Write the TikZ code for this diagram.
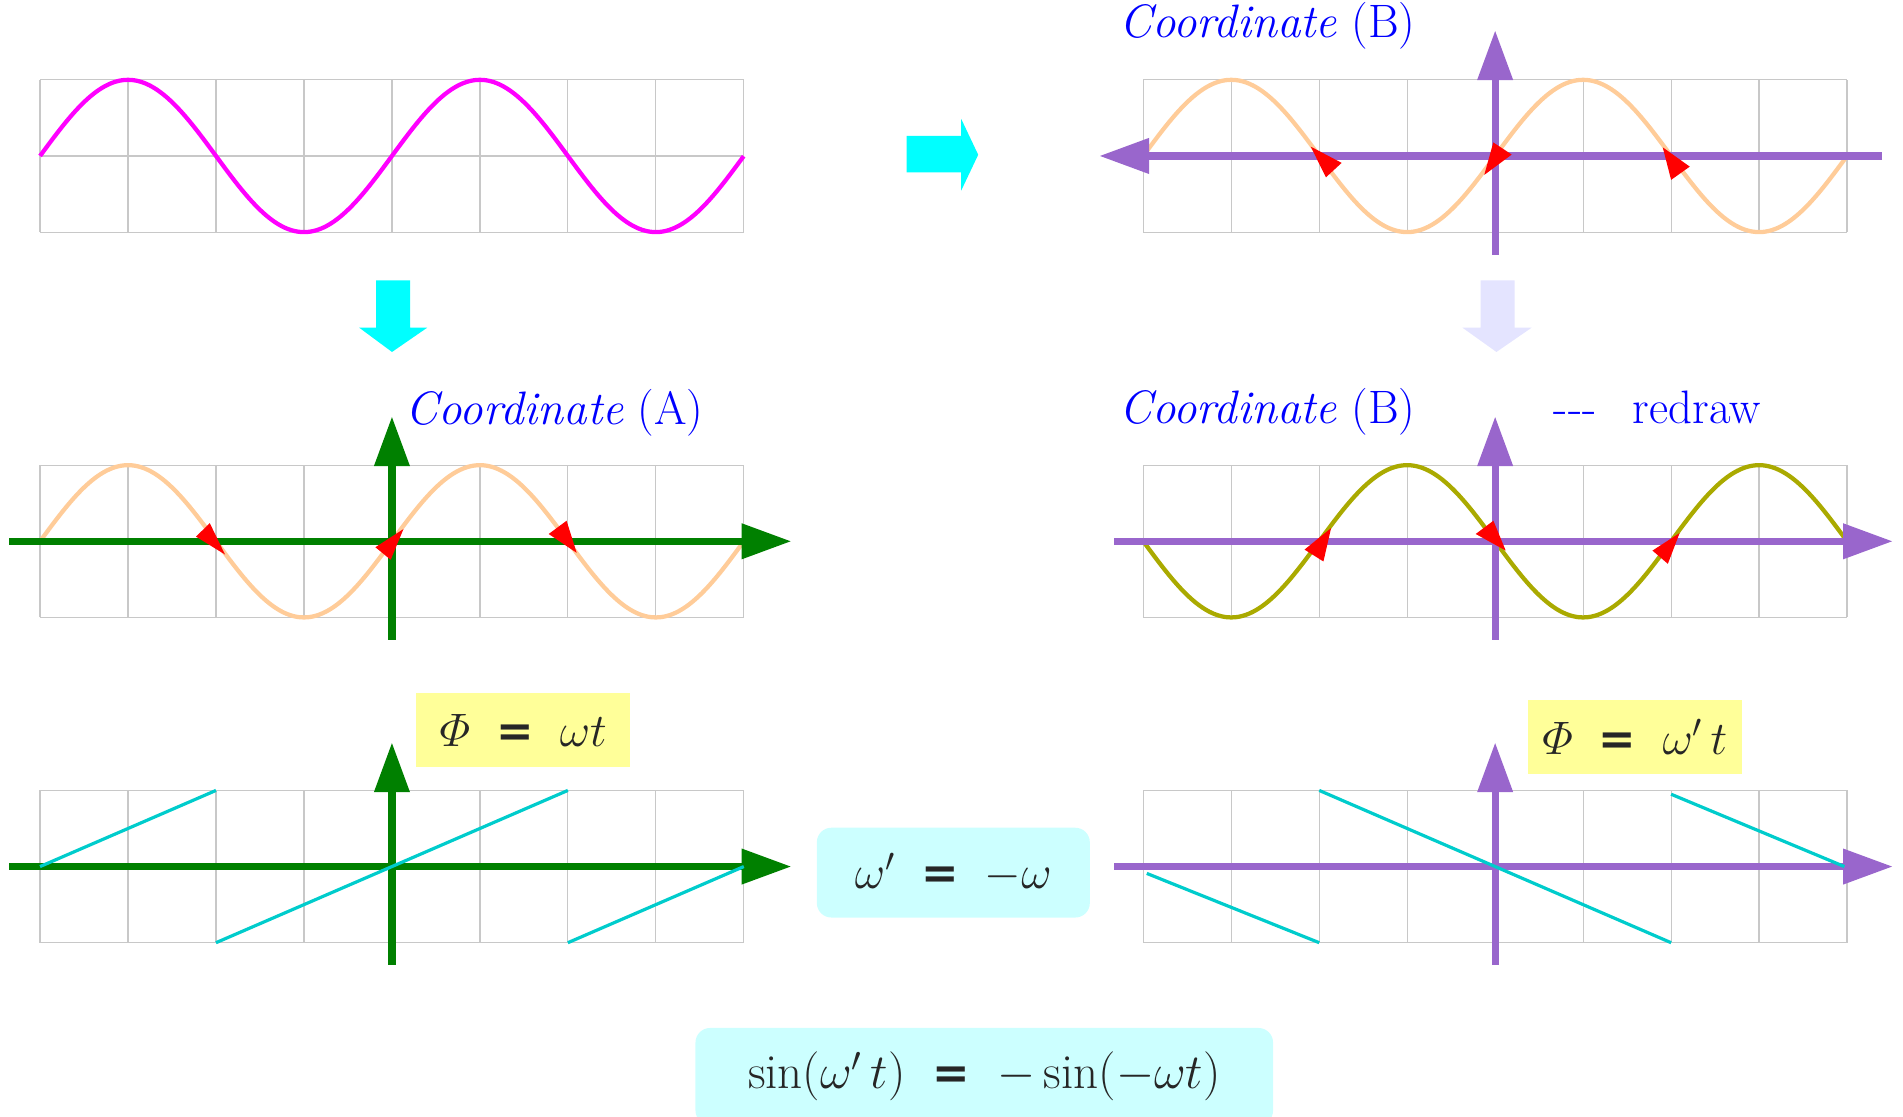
\documentclass[tikz,border=0pt]{standalone}
\usepackage{fix-cm}
\usepackage{amsmath}
\usepackage{fontspec}
\newfontfamily\heavyfont{DejaVu Sans}
\newcommand\heq{\mathrel{\text{\heavyfont\bfseries\fontsize{21}{24}\selectfont =}}}
\usetikzlibrary{arrows.meta}
\definecolor{gridgray}{RGB}{200,200,200}
\definecolor{wavemagenta}{RGB}{255,0,255}
\definecolor{peach}{RGB}{255,204,153}
\definecolor{oliveline}{RGB}{170,170,0}
\definecolor{axisgreen}{RGB}{0,128,0}
\definecolor{axispurple}{RGB}{153,102,204}
\definecolor{sawcyan}{RGB}{0,204,204}
\definecolor{flowcyan}{RGB}{0,255,255}
\definecolor{flowpale}{RGB}{228,228,255}
\definecolor{phiyellow}{RGB}{255,255,153}
\definecolor{eqcyan}{RGB}{204,255,255}
\definecolor{labelblue}{RGB}{0,0,255}

\begin{document}
\begin{tikzpicture}[x=0.02cm,y=-0.02cm,
  cell/.style={gridgray,line width=0.55pt},
  wave/.style={line width=2pt},
  sawline/.style={sawcyan,line width=1.5pt},
  axisA/.style={axisgreen,line width=3.4pt,-{Triangle[length=0.82cm,width=0.56cm]}},
  axisB/.style={axispurple,line width=3.4pt,-{Triangle[length=0.82cm,width=0.56cm]}},
  dirtip/.style={fill=red},
  label/.style={labelblue,font=\fontsize{22}{26}\selectfont,inner sep=0pt,anchor=base west},
  phibox/.style={fill=phiyellow,text=black!85,font=\fontsize{22}{26}\selectfont,minimum width=3.52cm,minimum height=1.22cm,inner sep=0pt},
  eqbox/.style={fill=eqcyan,text=black!85,font=\fontsize{22}{26}\selectfont,rounded corners=0.24cm,inner sep=0pt}]
\useasboundingbox (0,0) rectangle (1568,920);

% top left: the plain wave
\begin{scope}[shift={(33,128.5)},x=1.45cm,y=1.255cm]
\foreach \i in {0,...,8} \draw[cell] (\i,-1) -- (\i,1);
\foreach \j in {-1,0,1} \draw[cell] (0,\j) -- (8,\j);
\draw[wave,wavemagenta] plot[domain=0:8,samples=161,smooth] (\x,{sin(90*\x)});
\end{scope}

% top right: coordinate (B)
\begin{scope}[shift={(942,128.5)},x=1.45cm,y=1.255cm]
\foreach \i in {0,...,8} \draw[cell] (\i,-1) -- (\i,1);
\foreach \j in {-1,0,1} \draw[cell] (0,\j) -- (8,\j);
\draw[wave,peach] plot[domain=0:8,samples=161,smooth] (\x,{sin(90*\x)});
\draw[axisB] (8.4,0) -- (-0.5,0);
\draw[axisB] (4,-1.3) -- (4,1.65);
\fill[dirtip] (1.903,0.123) -- (2.255,-0.091) -- (2.077,-0.28) -- cycle;
\fill[dirtip] (3.979,0.178) -- (4.188,0.018) -- (3.876,-0.249) -- cycle;
\fill[dirtip] (5.905,0.113) -- (6.212,-0.14) -- (6,-0.314) -- cycle;
\end{scope}

% middle left: coordinate (A)
\begin{scope}[shift={(33,446)},x=1.45cm,y=1.255cm]
\foreach \i in {0,...,8} \draw[cell] (\i,-1) -- (\i,1);
\foreach \j in {-1,0,1} \draw[cell] (0,\j) -- (8,\j);
\draw[wave,peach] plot[domain=0:8,samples=161,smooth] (\x,{sin(90*\x)});
\draw[axisA] (-0.35,0) -- (8.54,0);
\draw[axisA] (4,-1.29) -- (4,1.64);
\fill[dirtip] (1.773,0.061) -- (1.929,0.239) -- (2.103,-0.174) -- cycle;
\fill[dirtip] (3.812,-0.078) -- (4.131,0.161) -- (3.986,-0.243) -- cycle;
\fill[dirtip] (5.782,0.096) -- (5.985,0.27) -- (6.1,-0.152) -- cycle;
\end{scope}

% middle right: coordinate (B) redrawn
\begin{scope}[shift={(942,446)},x=1.45cm,y=1.255cm]
\foreach \i in {0,...,8} \draw[cell] (\i,-1) -- (\i,1);
\foreach \j in {-1,0,1} \draw[cell] (0,\j) -- (8,\j);
\draw[wave,oliveline] plot[domain=0:8,samples=161,smooth] (\x,{-sin(90*\x)});
\draw[axisB] (-0.33,0) -- (8.52,0);
\draw[axisB] (4,-1.29) -- (4,1.64);
\fill[dirtip] (1.833,-0.109) -- (2.135,0.174) -- (2.048,-0.265) -- cycle;
\fill[dirtip] (3.779,0.096) -- (3.98,0.27) -- (4.12,-0.122) -- cycle;
\fill[dirtip] (5.788,-0.122) -- (6.097,0.109) -- (5.963,-0.296) -- cycle;
\end{scope}

% bottom left: phase of (A)
\begin{scope}[shift={(33,714)},x=1.45cm,y=1.255cm]
\foreach \i in {0,...,8} \draw[cell] (\i,-1) -- (\i,1);
\foreach \j in {-1,0,1} \draw[cell] (0,\j) -- (8,\j);
\draw[axisA] (-0.35,0) -- (8.54,0);
\draw[axisA] (4,-1.29) -- (4,1.63);
\draw[sawline] (0,0) -- (2,1);
\draw[sawline] (2,-1) -- (6,1);
\draw[sawline] (6,-1) -- (8,0);
\end{scope}

% bottom right: phase of (B)
\begin{scope}[shift={(942,714)},x=1.45cm,y=1.255cm]
\foreach \i in {0,...,8} \draw[cell] (\i,-1) -- (\i,1);
\foreach \j in {-1,0,1} \draw[cell] (0,\j) -- (8,\j);
\draw[axisB] (-0.33,0) -- (8.52,0);
\draw[axisB] (4,-1.29) -- (4,1.63);
\draw[sawline] (0.04,-0.09) -- (2,-1);
\draw[sawline] (2,1) -- (6,-1);
\draw[sawline] (6,0.95) -- (7.97,0);
\end{scope}

% flow arrows
\fill[flowcyan] (747,112) -- (792,112) -- (792,98) -- (806,127.5) -- (792,157) -- (792,142) -- (747,142) -- cycle;
\fill[flowcyan] (310,231) -- (338,231) -- (338,270) -- (352,270) -- (323,290) -- (296,270) -- (310,270) -- cycle;
\fill[flowpale] (1220,231) -- (1248,231) -- (1248,270) -- (1262,270) -- (1233,290) -- (1205,270) -- (1220,270) -- cycle;

% labels
\node[label] (labB) at (922,31) {\textit{Coordinate} (B)};
\node[label] (labA) at (334,350) {\textit{Coordinate} (A)};
\node[label] (labBr) at (922,349) {\textit{Coordinate} (B)};
\node[label] (redraw) at (1280,349) {-{}-{}-\hspace{0.6cm}redraw};

% formulas
\node[phibox] (phiA) at (431,601.5) {$\varPhi\;\heq\;\omega t$};
\node[phibox] (phiB) at (1347,607) {$\varPhi\;\heq\;\omega'\,t$};
\node[eqbox,minimum width=4.5cm,minimum height=1.48cm] (omega) at (785.5,719) {$\omega'\;\heq\;-\omega$};
\node[eqbox,font=\fontsize{23}{27}\selectfont,minimum width=9.52cm,minimum height=1.6cm] (sine) at (811,887) {$\sin(\omega'\,t)\;\heq\;-\sin(-\omega t)$};
\end{tikzpicture}
\end{document}
